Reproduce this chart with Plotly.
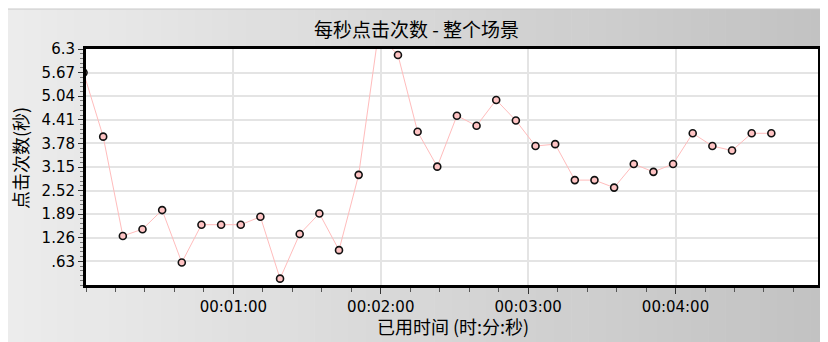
import plotly.graph_objects as go

# ---- data ----
times_s = [-1, 7, 15, 23, 31, 39, 47, 55, 63, 71, 79, 87, 95, 103, 111, 119, 127, 135,
           143, 151, 159, 167, 175, 183, 191, 199, 207, 215, 223, 231, 239, 247, 255,
           263, 271, 279]
hits_per_sec = [5.67, 3.96, 1.31, 1.49, 2.00, 0.60, 1.61, 1.61, 1.61, 1.82, 0.17, 1.36,
                1.91, 0.93, 2.94, 6.70, 6.14, 4.09, 3.16, 4.52, 4.25, 4.94, 4.39, 3.71,
                3.76, 2.80, 2.80, 2.60, 3.23, 3.02, 3.23, 4.05, 3.71, 3.59, 4.05, 4.05]
y_tick_vals = [0.63, 1.26, 1.89, 2.52, 3.15, 3.78, 4.41, 5.04, 5.67, 6.3]
y_tick_text = [".63", "1.26", "1.89", "2.52", "3.15", "3.78", "4.41", "5.04", "5.67", "6.3"]
x_tick_vals = [60, 120, 180, 240]
x_tick_text = ["00:01:00", "00:02:00", "00:03:00", "00:04:00"]

title_text = "每秒点击次数 - 整个场景"
x_title = "已用时间 (时:分:秒)"
y_title = "点击次数(秒)"

# ---- layout geometry ----
# The page body keeps its default 8px margin, so the figure is drawn from (8, 8);
# all page-pixel positions below are converted into figure space.
OFF = 8
PAGE_W, PAGE_H = 828, 342
W, H = PAGE_W - OFF, PAGE_H - OFF
L, R, T, B = 86 - OFF, 818 - OFF, 49 - OFF, 285 - OFF


def px(xp):
    return (xp - OFF - L) / (R - L)


def py(yp):
    return (B - (yp - OFF)) / (B - T)


fig = go.Figure()
fig.add_trace(go.Scatter(
    x=times_s, y=hits_per_sec, mode="lines+markers",
    line=dict(color="#ffbcbc", width=1),
    marker=dict(symbol="circle", size=7, color="#ffc4c4",
                line=dict(color="#111111", width=1.6)),
    cliponaxis=True, showlegend=False, hoverinfo="x+y",
))

shapes = []
# gradient background panel
n = 48
x0, x1 = OFF - 2, PAGE_W
for i in range(n):
    a = x0 + (x1 - x0) * i / n
    b = x0 + (x1 - x0) * (i + 1) / n + 0.6
    t = i / (n - 1)
    c = int(round(236 - (236 - 194) * t))
    shapes.append(dict(type="rect", xref="paper", yref="paper",
                       x0=px(a), x1=px(b), y0=py(PAGE_H + 2), y1=py(OFF + 1),
                       fillcolor=f"rgb({c},{c},{c})", line=dict(width=0), layer="below"))
# thin line at top of panel
shapes.append(dict(type="line", xref="paper", yref="paper",
                   x0=px(x0), x1=px(PAGE_W), y0=py(OFF + 1), y1=py(OFF + 1),
                   line=dict(color="#c8c8c8", width=1), layer="below"))
# white plot area
shapes.append(dict(type="rect", xref="paper", yref="paper", x0=0, x1=1, y0=0, y1=1,
                   fillcolor="white", line=dict(width=0), layer="below"))

annotations = [
    dict(text=title_text, xref="paper", yref="paper", x=px(416), y=py(28),
         xanchor="center", yanchor="middle", showarrow=False,
         font=dict(family="Noto Sans CJK SC", size=19, color="black")),
    dict(text=x_title, xref="paper", yref="paper", x=px(453), y=py(326),
         xanchor="center", yanchor="middle", showarrow=False,
         font=dict(family="Noto Sans CJK SC", size=18, color="black")),
    dict(text=y_title, xref="paper", yref="paper", x=px(20), y=py(158),
         xanchor="center", yanchor="middle", showarrow=False, textangle=-90,
         font=dict(family="Noto Sans CJK SC", size=18, color="black")),
]

fig.update_layout(
    width=W, height=H,
    margin=dict(l=L, r=W - R, t=T, b=H - B, pad=0, autoexpand=False),
    paper_bgcolor="white", plot_bgcolor="rgba(0,0,0,0)",
    shapes=shapes, annotations=annotations,
    font=dict(family="DejaVu Sans", size=15, color="black"),
)
fig.update_xaxes(
    range=[0, 298], tickmode="array", tickvals=x_tick_vals, ticktext=x_tick_text,
    ticks="outside", ticklen=6, tickwidth=1, tickcolor="#333333",
    showgrid=True, gridcolor="#e4e4e4", gridwidth=2,
    showline=True, linecolor="black", linewidth=3, mirror=True,
    zeroline=False, tickfont=dict(family="DejaVu Sans", size=15, color="black"),
    minor=dict(tickmode="linear", tick0=0, dtick=12, ticks="outside", ticklen=4,
               tickcolor="#555555", showgrid=False),
)
fig.update_yaxes(
    range=[0, 6.3], tickmode="array", tickvals=y_tick_vals, ticktext=y_tick_text,
    ticks="outside", ticklen=5, tickwidth=1, tickcolor="#333333",
    showgrid=True, gridcolor="#e4e4e4", gridwidth=2,
    showline=True, linecolor="black", linewidth=3, mirror=True,
    zeroline=False, tickfont=dict(family="DejaVu Sans", size=15, color="black"),
    minor=dict(tickmode="linear", tick0=0, dtick=0.126, ticks="outside", ticklen=3,
               tickcolor="#777777", showgrid=False),
)

fig.write_html("out.html")
